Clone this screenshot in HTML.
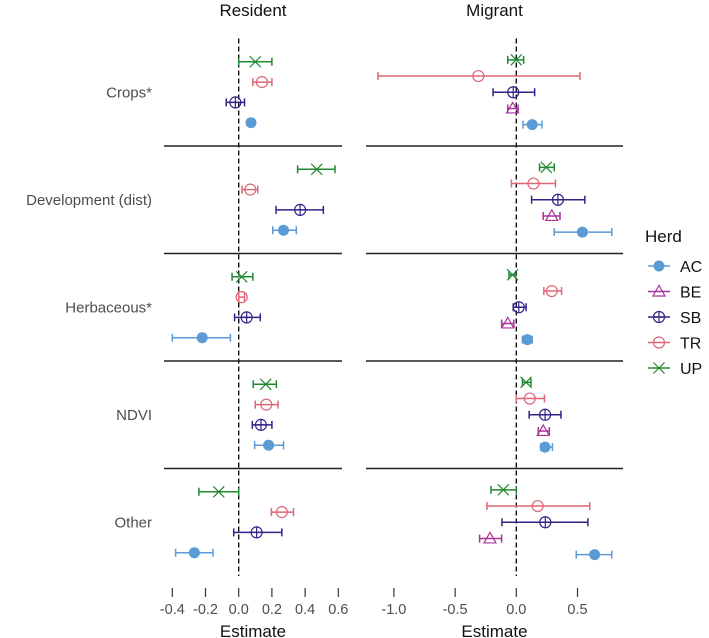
<!DOCTYPE html>
<html><head><meta charset="utf-8"><style>
html,body{margin:0;padding:0;background:#fff;}
svg{display:block;font-family:"Liberation Sans",Arial,sans-serif;}
</style></head><body>
<svg id="chart" width="709" height="638" viewBox="0 0 709 638" xmlns="http://www.w3.org/2000/svg"></svg>
<script>
const categories = ["Crops*","Development (dist)","Herbaceous*","NDVI","Other"];
const herds = ["AC","BE","SB","TR","UP"];
const residentHerds = ["AC","SB","TR","UP"];
const migrantHerds = ["AC","BE","SB","TR","UP"];
// Resident: [est, lo, hi] per category per herd
const resAC = [[0.074,null,null],[0.27,0.205,0.347],[-0.22,-0.4,-0.05],[0.18,0.096,0.27],[-0.267,-0.38,-0.155]];
const resSB = [[-0.02,-0.075,0.035],[0.37,0.225,0.51],[0.048,-0.025,0.13],[0.134,0.082,0.2],[0.108,-0.03,0.26]];
const resTR = [[0.14,0.085,0.2],[0.07,0.02,0.115],[0.018,0,0.035],[0.166,0.1,0.237],[0.26,0.197,0.33]];
const resUP = [[0.1,0,0.2],[0.47,0.355,0.58],[0.018,-0.04,0.085],[0.163,0.088,0.227],[-0.12,-0.24,0]];
const migAC = [[0.13,0.055,0.21],[0.54,0.31,0.78],[0.09,0.05,0.13],[0.235,0.2,0.295],[0.64,0.49,0.78]];
const migBE = [[-0.03,-0.07,0.015],[0.29,0.22,0.357],[-0.07,-0.12,-0.02],[0.22,0.18,0.27],[-0.215,-0.3,-0.12]];
const migSB = [[-0.025,-0.19,0.15],[0.34,0.125,0.56],[0.02,-0.025,0.08],[0.235,0.105,0.365],[0.237,-0.117,0.585]];
const migTR = [[-0.31,-1.13,0.52],[0.14,-0.04,0.32],[0.29,0.225,0.37],[0.11,0,0.23],[0.175,-0.24,0.6]];
const migUP = [[0,-0.07,0.06],[0.245,0.19,0.31],[-0.03,-0.06,-0.005],[0.08,0.05,0.12],[-0.106,-0.207,0]];
const resTicks = [-0.4,-0.2,0.0,0.2,0.4,0.6];
const resTickLabels = ["-0.4","-0.2","0.0","0.2","0.4","0.6"];
const migTicks = [-1.0,-0.5,0.0,0.5];
const migTickLabels = ["-1.0","-0.5","0.0","0.5"];

const colors = {AC:"#5b9bd5",BE:"#aa3399",SB:"#332288",TR:"#dd6677",UP:"#228833"};
const svg = document.getElementById('chart');
const NS = "http://www.w3.org/2000/svg";
function mk(tag, attrs, parent){const e=document.createElementNS(NS,tag);for(const k in attrs)e.setAttribute(k,attrs[k]);(parent||svg).appendChild(e);return e;}
const resX = v => 238.7 + v*166;
const migX = v => 516.3 + v*122.4;
const top0 = 38.5, rowH = 107.5;
const rowMid = i => top0 + rowH*i + rowH/2;

function marker(g, herd, x, y){
  const c = colors[herd];
  if(herd==="AC"){mk('circle',{cx:x,cy:y,r:5.5,fill:c},g);}
  else if(herd==="BE"){mk('polygon',{points:`${x},${y-6} ${x-6},${y+4.5} ${x+6},${y+4.5}`,fill:'none',stroke:c,'stroke-width':1.2},g);}
  else if(herd==="SB"){mk('circle',{cx:x,cy:y,r:5.5,fill:'none',stroke:c,'stroke-width':1.2},g);
    mk('path',{d:`M${x-5.5},${y}H${x+5.5}M${x},${y-5.5}V${y+5.5}`,stroke:c,'stroke-width':1.2},g);}
  else if(herd==="TR"){mk('circle',{cx:x,cy:y,r:5.5,fill:'none',stroke:c,'stroke-width':1.2},g);}
  else {mk('path',{d:`M${x-5.5},${y-5.5}L${x+5.5},${y+5.5}M${x-5.5},${y+5.5}L${x+5.5},${y-5.5}`,stroke:c,'stroke-width':1.2},g);}
}
function drawPanel(name, sx, x0, x1, herdList, dataMap, spacing, ticks, tickLabels){
  const g = mk('g',{});
  
  
  for(let i=1;i<categories.length;i++){
    const y = top0+rowH*i;
    const l = mk('line',{x1:x0,x2:x1,y1:y,y2:y,stroke:'#222','stroke-width':1.4},g);
    
    
  }
  const z = mk('line',{x1:sx(0),x2:sx(0),y1:top0,y2:top0+rowH*5,stroke:'#111','stroke-width':1.4,'stroke-dasharray':'5,3'},g);
  
  
  const n = herdList.length;
  categories.forEach((cat,ci)=>{
    herdList.forEach((h,hi)=>{
      const y = rowMid(ci) + ((n-1)/2 - hi)*spacing;
      const d = dataMap[h][ci];
      const c = colors[h];
      const pg = mk('g',{},g);
      
      
      if(d[1]!==null){
        const a=sx(d[1]), b=sx(d[2]);
        mk('path',{d:`M${a},${y}H${b}M${a},${y-4}V${y+4}M${b},${y-4}V${y+4}`,stroke:c,'stroke-width':1.5,fill:'none'},pg);
      }
      marker(pg,h,sx(d[0]),y);
    });
  });
  const axisY = top0+rowH*5;
  ticks.forEach((t,ti)=>{
    const x = sx(t);
    const tk = mk('line',{x1:x,x2:x,y1:axisY+12,y2:axisY+21,stroke:'#333','stroke-width':1.2},g);
    
    
    const tl = mk('text',{x:x,y:axisY+38,'text-anchor':'middle','font-size':14.5,fill:'#4d4d4d'},g);
    tl.textContent = tickLabels[ti];
    
    
  });
  const at = mk('text',{x:(x0+x1)/2,y:637,'text-anchor':'middle','font-size':17,fill:'#111'},g);
  at.textContent = 'Estimate';
  
  
  const st = mk('text',{x:(x0+x1)/2,y:16,'text-anchor':'middle','font-size':17,fill:'#111'},g);
  st.textContent = name==='resident'?'Resident':'Migrant';
  
  
}
drawPanel('resident', resX, 164, 342, residentHerds, {AC:resAC,SB:resSB,TR:resTR,UP:resUP}, 20.3, resTicks, resTickLabels);
drawPanel('migrant', migX, 366, 623, migrantHerds, {AC:migAC,BE:migBE,SB:migSB,TR:migTR,UP:migUP}, 16.2, migTicks, migTickLabels);
categories.forEach((cat,ci)=>{
  const t = mk('text',{x:152,y:rowMid(ci)+5,'text-anchor':'end','font-size':15,fill:'#4d4d4d'});
  t.textContent = cat;
  
  
});
const lg = mk('g',{});


const lt = mk('text',{x:645,y:242,'font-size':17,fill:'#111'},lg);
lt.textContent = 'Herd';


herds.forEach((h,i)=>{
  const y = 266 + i*25.5;
  const eg = mk('g',{},lg);
  
  
  mk('line',{x1:648,x2:670,y1:y,y2:y,stroke:colors[h],'stroke-width':1.5},eg);
  marker(eg,h,659,y);
  const tx = mk('text',{x:680,y:y+6,'font-size':16,fill:'#111'},eg);
  tx.textContent = h;
});
</script>
</body></html>
